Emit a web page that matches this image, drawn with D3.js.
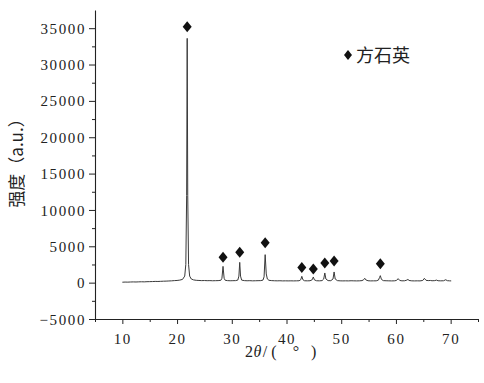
<!DOCTYPE html>
<html><head><meta charset="utf-8">
<script src="https://cdn.jsdelivr.net/npm/d3@7/dist/d3.min.js"></script>
<style>
body{margin:0;background:#fff;}
svg{display:block;}
.num{font-family:"Liberation Serif","Times New Roman",serif;}
.cjk{font-family:"Noto Sans CJK SC",sans-serif;}
</style></head>
<body>
<svg id="chart" width="484" height="383"></svg>
<script>
const twoTheta = [10.0,10.5,11,11.5,12,12.5,13,13.5,14,14.5,15,15.5,16,16.5,17,17.5,18,18.5,19,19.5,20,20.5,21,21.4,21.6,21.75,21.85,21.95,22.1,22.3,22.6,23,23.5,24,24.5,25,25.5,26,26.5,27,27.5,28,28.2,28.4,28.6,28.8,29.2,29.7,30.2,30.7,31.1,31.3,31.45,31.6,31.8,32.3,32.8,33.3,33.8,34.3,34.8,35.3,35.7,35.9,36.1,36.3,36.5,36.8,37.3,37.8,38.3,38.8,39.3,39.8,40.3,40.8,41.3,41.8,42.3,42.6,42.8,43.0,43.3,43.8,44.3,44.7,44.9,45.1,45.5,46.0,46.5,46.8,47.0,47.2,47.6,48.1,48.5,48.7,48.9,49.3,49.8,50.3,50.8,51.3,51.8,52.3,52.8,53.3,53.8,54.1,54.3,54.5,54.9,55.4,55.9,56.4,56.8,57.0,57.15,57.35,57.7,58.2,58.7,59.2,59.7,60.1,60.4,60.7,61.1,61.6,62.0,62.2,62.4,62.9,63.4,63.9,64.4,64.9,65.2,65.5,65.9,66.3,66.6,67.1,67.4,67.7,68.2,68.7,69.1,69.4,69.8,70.1];
const intensity = [60,80,70,90,100,90,110,120,110,130,140,150,170,160,180,200,210,230,250,280,300,350,450,900,2500,12000,33600,12000,2500,900,500,380,320,300,280,290,270,280,260,270,280,320,600,2240,600,320,280,260,270,280,350,900,2790,900,350,280,260,270,250,260,270,280,350,800,3850,1200,500,320,280,260,250,260,240,250,240,250,240,250,260,400,870,400,260,250,260,400,780,380,260,250,280,500,1330,500,280,270,500,1470,500,280,250,240,250,240,260,250,240,250,280,400,600,380,260,240,250,250,350,700,960,450,280,260,250,240,250,300,550,300,250,260,350,450,300,250,240,250,240,300,590,320,280,300,260,280,350,260,250,260,400,270,250,240];

// cristobalite (方石英) peak markers
const markerTheta = [21.85,28.4,31.45,36.1,42.8,44.9,47.0,48.7,57.15];
const markerValue = [35200,3480,4170,5500,2100,1880,2700,2980,2600];

const xTicks = [10,20,30,40,50,60,70];
const xMinorTicks = [5,15,25,35,45,55,65,75];
const yTicks = [-5000,0,5000,10000,15000,20000,25000,30000,35000];
const yMinorTicks = [-2500,2500,7500,12500,17500,22500,27500,32500];
const yLabel = "强度（a.u.）";
const legendLabel = "方石英";
const xLabelParts = ["2","θ","/ (    °   )"];

const svg = d3.select("#chart");
const x = d3.scaleLinear().domain([5,75]).range([95,478]);
const y = d3.scaleLinear().domain([-5000,37500]).range([319,10]);

// axes
const gx = svg.append("g").attr("transform","translate(0,319)");
gx.call(d3.axisBottom(x).tickValues(xTicks).tickSize(5).tickPadding(9).tickSizeOuter(0).tickFormat(d3.format("d")));
const gxm = svg.append("g").attr("transform","translate(0,319)");
gxm.call(d3.axisBottom(x).tickValues(xMinorTicks).tickSize(3).tickSizeOuter(0).tickFormat(""));
gxm.select(".domain").remove();

const gy = svg.append("g").attr("transform","translate(95,0)");
gy.call(d3.axisLeft(y).tickValues(yTicks).tickSize(6).tickPadding(3).tickSizeOuter(0).tickFormat(d => d < 0 ? "−" + Math.abs(d) : String(d)));
const gym = svg.append("g").attr("transform","translate(95,0)");
gym.call(d3.axisLeft(y).tickValues(yMinorTicks).tickSize(3).tickSizeOuter(0).tickFormat(""));
gym.select(".domain").remove();

svg.selectAll("g").attr("font-family",null);
svg.selectAll(".domain").attr("stroke","#222").attr("stroke-width",1.1);
svg.selectAll(".tick line").attr("stroke","#222").attr("stroke-width",1);
svg.selectAll(".tick text")
  .attr("class","num")
  .style("font-size","15px")
  .style("letter-spacing","1.6px").attr("fill","#222");
gy.selectAll(".tick text").attr("dy","0.34em");

// data line
const pts = twoTheta.map((t,i)=>[t,intensity[i]]);
svg.append("path")
  .datum(pts)
  .attr("fill","none")
  .attr("stroke","#3a3a3a")
  .attr("stroke-width",1)
  .attr("stroke-linejoin","round")
  .attr("d", d3.line().x(d=>x(d[0])).y(d=>y(d[1])));

// diamond markers
const diamond = (cx,cy,w,h) => `M${cx},${cy-h/2}L${cx+w/2},${cy}L${cx},${cy+h/2}L${cx-w/2},${cy}Z`;
svg.append("g").selectAll("path")
  .data(markerTheta.map((t,i)=>[t,markerValue[i]]))
  .join("path")
  .attr("d", d => diamond(x(d[0]), y(d[1]), 9, 11))
  .attr("fill","#111");

// legend
svg.append("path").attr("d", diamond(348,55,8,10)).attr("fill","#111");
svg.append("text").attr("x",356).attr("y",61.5)
  .attr("class","cjk").style("font-size","18px")
  .attr("fill","#222").text(legendLabel);

// x label: 2θ/（°  ） as adjacent pieces
let cx = 245;
xLabelParts.forEach((s,i) => {
  const t = svg.append("text").attr("x",cx).attr("y",357)
    .attr("class","num").style("font-size","16px").style("white-space","pre")
    .style("font-style", i===1 ? "italic" : "normal")
    .attr("fill","#222").text(s);
  cx += t.node().getComputedTextLength() + (i===1 ? 1.5 : 0.5);
});

// y label
svg.append("text")
  .attr("transform","translate(23,159) rotate(-90)")
  .attr("text-anchor","middle").style("font-size","17px").attr("fill","#222")
  .attr("class","cjk")
  .text(yLabel);
</script>
</body></html>
